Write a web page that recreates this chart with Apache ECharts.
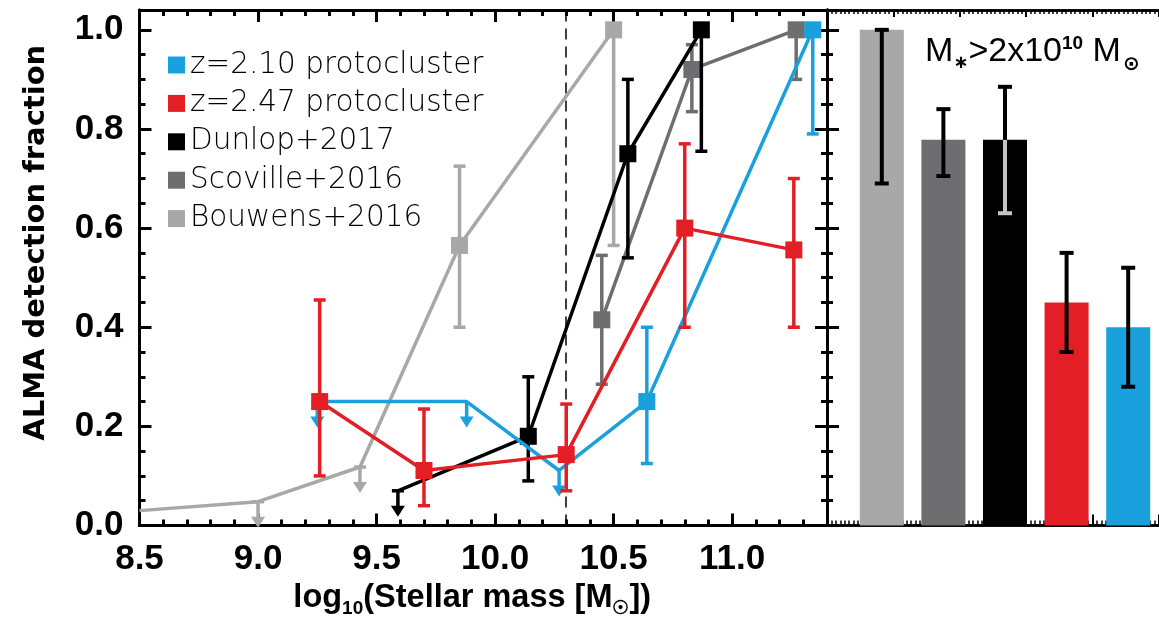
<!DOCTYPE html>
<html>
<head>
<meta charset="utf-8">
<script src="https://cdn.jsdelivr.net/npm/echarts@6/dist/echarts.min.js"></script>
<style>
  html, body { margin: 0; padding: 0; background: #ffffff; }
  #chart { width: 1159px; height: 634px; }
</style>
</head>
<body>
<div id="chart"></div>
<script>
// ALMA detection fraction as a function of stellar mass, plus the fraction above 2x10^10 Msun.

// Labelled ticks
const massTickLabels = ['8.5', '9.0', '9.5', '10.0', '10.5', '11.0'];
const fracTickLabels = ['0.0', '0.2', '0.4', '0.6', '0.8', '1.0'];

// z=2.10 protocluster (limit = 1 marks an upper limit)
const z210Mass  = [9.25, 9.88, 10.27, 10.64, 11.34];
const z210Frac  = [0.25, 0.25, 0.111, 0.25, 1.0];
const z210Limit = [1, 1, 1, 0, 0];
const z210Lo    = [null, null, null, 0.125, 0.79];
const z210Hi    = [null, null, null, 0.40, 1.0];

// z=2.47 protocluster
const z247Mass  = [9.26, 9.70, 10.30, 10.80, 11.26];
const z247Frac  = [0.25, 0.111, 0.143, 0.60, 0.556];
const z247Limit = [0, 0, 0, 0, 0];
const z247Lo    = [0.10, 0.04, 0.07, 0.40, 0.40];
const z247Hi    = [0.455, 0.235, 0.245, 0.77, 0.70];

// Dunlop+2017
const dunMass  = [9.59, 10.14, 10.56, 10.87];
const dunFrac  = [0.07, 0.18, 0.75, 1.0];
const dunLimit = [1, 0, 0, 0];
const dunLo    = [null, 0.09, 0.54, 0.755];
const dunHi    = [null, 0.30, 0.90, 1.0];

// Scoville+2016
const scoMass  = [10.45, 10.83, 11.27];
const scoFrac  = [0.415, 0.92, 1.0];
const scoLimit = [0, 0, 0];
const scoLo    = [0.285, 0.835, 0.90];
const scoHi    = [0.545, 0.97, 1.0];

// Bouwens+2016 (limit = 2: point on the plot edge, no marker)
const bouMass  = [8.5, 9.0, 9.43, 9.85, 10.5];
const bouFrac  = [0.03, 0.048, 0.118, 0.565, 1.0];
const bouLimit = [2, 1, 1, 0, 0];
const bouLo    = [null, null, null, 0.40, 0.565];
const bouHi    = [null, null, null, 0.725, 1.0];

// Fractions above the mass cut
const barNames = ['Bouwens+2016', 'Scoville+2016', 'Dunlop+2017', 'z=2.47 protocluster', 'z=2.10 protocluster'];
const barFrac  = [1.0, 0.778, 0.778, 0.45, 0.40];
const barLo    = [0.69, 0.705, 0.63, 0.35, 0.28];
const barHi    = [1.0, 0.84, 0.885, 0.55, 0.52];

const massCut = 10.301; // log10(2e10)

const BLUE = '#1ba0de', RED = '#e31e24', BLACK = '#000000', DGRAY = '#6e6e71', LGRAY = '#a8a8a8';
const barColors = [LGRAY, DGRAY, BLACK, RED, BLUE];

const sets = [
  { name: 'Bouwens+2016', color: LGRAY, mass: bouMass, frac: bouFrac, limit: bouLimit, lo: bouLo, hi: bouHi, cap: true },
  { name: 'Scoville+2016', color: DGRAY, mass: scoMass, frac: scoFrac, limit: scoLimit, lo: scoLo, hi: scoHi, cap: true },
  { name: 'Dunlop+2017', color: BLACK, mass: dunMass, frac: dunFrac, limit: dunLimit, lo: dunLo, hi: dunHi, cap: true },
  { name: 'z=2.10 protocluster', color: BLUE, mass: z210Mass, frac: z210Frac, limit: z210Limit, lo: z210Lo, hi: z210Hi, cap: false },
  { name: 'z=2.47 protocluster', color: RED, mass: z247Mass, frac: z247Frac, limit: z247Limit, lo: z247Lo, hi: z247Hi, cap: false }
];

const LABEL_FONT = { fontFamily: 'Liberation Sans', fontWeight: 'bold', fontSize: 35, color: '#000' };

// Frame axis with inward ticks
function frameAxis(extra, tickLen, tickWidth, lineWidth) {
  return Object.assign({
    type: 'value',
    axisLine: { show: true, onZero: false, lineStyle: { color: '#000', width: lineWidth } },
    splitLine: { show: false },
    axisLabel: { show: false },
    axisTick: { show: true, inside: true, length: tickLen, lineStyle: { color: '#000', width: tickWidth } },
    silent: true
  }, extra);
}

const MX = { min: 8.5, max: 11.4 };
const FY = { min: 0, max: 1.04 };

const xAxes = [
  // left panel: bottom minor, bottom major (labels), top minor, top major
  frameAxis({ gridIndex: 0, position: 'bottom', ...MX, interval: 0.1 }, 6, 3, 3),
  frameAxis({
    gridIndex: 0, position: 'bottom', ...MX, interval: 0.5,
    axisLabel: {
      show: true, margin: 16, showMaxLabel: false, ...LABEL_FONT,
      formatter: v => { const s = v.toFixed(1); return massTickLabels.includes(s) ? s : ''; }
    },
    name: '{a|log}{b|10}{a|(Stellar mass [M}{b|\u2609}{a|])}',
    nameLocation: 'middle', nameGap: 42,
    nameTextStyle: {
      padding: [0, 22, 0, 0],
      rich: {
        a: { fontFamily: 'Liberation Sans', fontWeight: 'bold', fontSize: 32.5, color: '#000' },
        b: { fontFamily: 'Liberation Sans', fontWeight: 'bold', fontSize: 19, color: '#000', padding: [22, 0, 0, 0] }
      }
    }
  }, 12, 3, 3),
  frameAxis({ gridIndex: 0, position: 'top', ...MX, interval: 0.1 }, 6, 3, 3),
  frameAxis({ gridIndex: 0, position: 'top', ...MX, interval: 0.5 }, 12, 3, 3),
  // right panel frame: bottom dense, bottom major, top dense, top major
  frameAxis({ gridIndex: 1, position: 'bottom', min: 0, max: 75, interval: 1 }, 5, 1.5, 2.5),
  frameAxis({ gridIndex: 1, position: 'bottom', min: 0, max: 75, interval: 15 }, 11, 2, 2.5),
  frameAxis({ gridIndex: 1, position: 'top', min: 0, max: 75, interval: 1 }, 4, 1.5, 2.5),
  frameAxis({ gridIndex: 1, position: 'top', min: 0, max: 75, interval: 15 }, 7, 2, 2.5),
  // bars
  { type: 'category', gridIndex: 2, data: barNames, show: false }
];

const yAxes = [
  frameAxis({ gridIndex: 0, position: 'left', ...FY, interval: 0.05 }, 6, 3, 3),
  frameAxis({
    gridIndex: 0, position: 'left', ...FY, interval: 0.2,
    axisLabel: {
      show: true, margin: 16, showMaxLabel: false, ...LABEL_FONT,
      formatter: v => { const s = v.toFixed(1); return fracTickLabels.includes(s) ? s : ''; }
    },
    name: 'ALMA detection fraction', nameLocation: 'middle', nameRotate: 90, nameGap: 89,
    nameTextStyle: { fontFamily: 'DejaVu Sans', fontWeight: 'bold', fontSize: 29, color: '#000', padding: [0, 0, 0, 50] }
  }, 12, 3, 3),
  frameAxis({ gridIndex: 0, position: 'right', ...FY, interval: 0.05 }, 6, 3, 3),
  frameAxis({ gridIndex: 0, position: 'right', ...FY, interval: 0.2 }, 12, 3, 3),
  frameAxis({ gridIndex: 1, position: 'left', ...FY, interval: 0.05 }, 6, 3, 3),
  frameAxis({ gridIndex: 1, position: 'left', ...FY, interval: 0.2 }, 12, 3, 3),
  { type: 'value', gridIndex: 2, ...FY, show: false }
];

const series = [];

sets.forEach((d, k) => {
  const z = 10 + k * 3;
  // error bars
  const errData = [];
  d.mass.forEach((m, i) => { if (d.lo[i] != null) errData.push([m, d.lo[i], d.hi[i]]); });
  series.push({
    type: 'custom', xAxisIndex: 1, yAxisIndex: 1, z, silent: true, animation: false,
    data: errData, encode: { x: 0, y: [1, 2] },
    renderItem: (params, api) => {
      const x = api.value(0);
      const a = api.coord([x, api.value(1)]);
      const b = api.coord([x, api.value(2)]);
      const st = { stroke: d.color, lineWidth: 3.5 };
      return { type: 'group', children: [
        { type: 'line', shape: { x1: a[0], y1: a[1], x2: b[0], y2: b[1] }, style: st },
        { type: 'line', shape: { x1: a[0] - 6, y1: a[1], x2: a[0] + 6, y2: a[1] }, style: st },
        { type: 'line', shape: { x1: b[0] - 6, y1: b[1], x2: b[0] + 6, y2: b[1] }, style: st }
      ] };
    }
  });
  // upper-limit arrows
  const limData = [];
  d.mass.forEach((m, i) => { if (d.limit[i] === 1) limData.push([m, d.frac[i]]); });
  series.push({
    type: 'custom', xAxisIndex: 1, yAxisIndex: 1, z: z + 1, silent: true, animation: false,
    data: limData, encode: { x: 0, y: 1 },
    renderItem: (params, api) => {
      const p = api.coord([api.value(0), api.value(1)]);
      const L = 25;
      const children = [
        { type: 'line', shape: { x1: p[0], y1: p[1], x2: p[0], y2: p[1] + L - 6 }, style: { stroke: d.color, lineWidth: 3.5 } },
        { type: 'polygon', shape: { points: [[p[0] - 7, p[1] + L - 10], [p[0] + 7, p[1] + L - 10], [p[0], p[1] + L + 1]] }, style: { fill: d.color } }
      ];
      if (d.cap) children.push({ type: 'line', shape: { x1: p[0] - 6, y1: p[1], x2: p[0] + 6, y2: p[1] }, style: { stroke: d.color, lineWidth: 3.5 } });
      return { type: 'group', children };
    }
  });
  // connecting line and detections
  const s = {
    type: 'line', name: d.name, xAxisIndex: 1, yAxisIndex: 1, z: z + 2, animation: false,
    data: d.mass.map((m, i) => ({ value: [m, d.frac[i]], symbol: d.limit[i] ? 'none' : 'rect' })),
    symbolSize: 17, showSymbol: true, showAllSymbol: true,
    lineStyle: { color: d.color, width: 3.5 },
    itemStyle: { color: d.color },
    emphasis: { disabled: true }
  };
  if (k === 0) {
    s.markLine = {
      silent: true, symbol: ['none', 'none'], label: { show: false }, animation: false,
      lineStyle: { color: '#000', width: 1.5, type: [11, 7] },
      data: [{ xAxis: massCut }]
    };
  }
  series.push(s);
});

// bars above the mass cut
series.push({
  type: 'bar', xAxisIndex: 8, yAxisIndex: 6, barWidth: 44, z: 5, animation: false, silent: true,
  data: barFrac.map((v, i) => ({ value: v, itemStyle: { color: barColors[i] } }))
});
series.push({
  type: 'custom', xAxisIndex: 8, yAxisIndex: 6, z: 6, silent: true, animation: false,
  data: barFrac.map((v, i) => [i, barLo[i], barHi[i], v]),
  encode: { x: 0, y: [1, 2] },
  renderItem: (params, api) => {
    const i = api.value(0);
    const a = api.coord([i, api.value(1)]);
    const b = api.coord([i, api.value(2)]);
    const t = api.coord([i, api.value(3)]);
    const onBlack = barColors[i] === BLACK;
    const w = 7, lw = 4;
    const children = [];
    if (onBlack) {
      children.push({ type: 'line', shape: { x1: a[0], y1: a[1], x2: t[0], y2: t[1] }, style: { stroke: '#c4c4c4', lineWidth: lw } });
      children.push({ type: 'line', shape: { x1: a[0] - w, y1: a[1], x2: a[0] + w, y2: a[1] }, style: { stroke: '#c4c4c4', lineWidth: lw } });
      children.push({ type: 'line', shape: { x1: t[0], y1: t[1], x2: b[0], y2: b[1] }, style: { stroke: '#000', lineWidth: lw } });
    } else {
      children.push({ type: 'line', shape: { x1: a[0], y1: a[1], x2: b[0], y2: b[1] }, style: { stroke: '#000', lineWidth: lw } });
      children.push({ type: 'line', shape: { x1: a[0] - w, y1: a[1], x2: a[0] + w, y2: a[1] }, style: { stroke: '#000', lineWidth: lw } });
    }
    children.push({ type: 'line', shape: { x1: b[0] - w, y1: b[1], x2: b[0] + w, y2: b[1] }, style: { stroke: '#000', lineWidth: lw } });
    return { type: 'group', children };
  }
});

const chart = echarts.init(document.getElementById('chart'), null, { renderer: 'canvas' });
chart.setOption({
  backgroundColor: '#ffffff',
  animation: false,
  grid: [
    { left: 139.5, top: 10, width: 687.5, height: 515.5 },
    { left: 827, top: 10, width: 345, height: 515.5 },
    { left: 851, top: 10, width: 309.5, height: 515.5 }
  ],
  title: {
    text: '{m|M}{s|\u2217}{m|>2x10}{p|10}{m| M}{o|\u2299}',
    left: 920, top: 24,
    textStyle: {
      rich: {
        m: { fontFamily: 'Liberation Sans', fontWeight: 'normal', fontSize: 34, color: '#000' },
        s: { fontFamily: 'DejaVu Sans', fontSize: 18, color: '#000', padding: [22, 0, 0, 0] },
        o: { fontFamily: 'DejaVu Sans', fontWeight: 'bold', fontSize: 20, color: '#000', padding: [26, 0, 0, 2] },
        p: { fontFamily: 'Liberation Sans', fontWeight: 'bold', fontSize: 19, color: '#000', padding: [0, 0, 16, 0] }
      }
    }
  },
  legend: {
    orient: 'vertical', left: 163, top: 45,
    icon: 'rect', itemWidth: 17, itemHeight: 17, itemGap: 8.4,
    data: ['z=2.10 protocluster', 'z=2.47 protocluster', 'Dunlop+2017', 'Scoville+2016', 'Bouwens+2016'],
    textStyle: { fontFamily: 'DejaVu Sans', fontWeight: 200, fontSize: 29.5, color: '#000' },
    selectedMode: false
  },
  xAxis: xAxes,
  yAxis: yAxes,
  series
});
</script>
</body>
</html>
